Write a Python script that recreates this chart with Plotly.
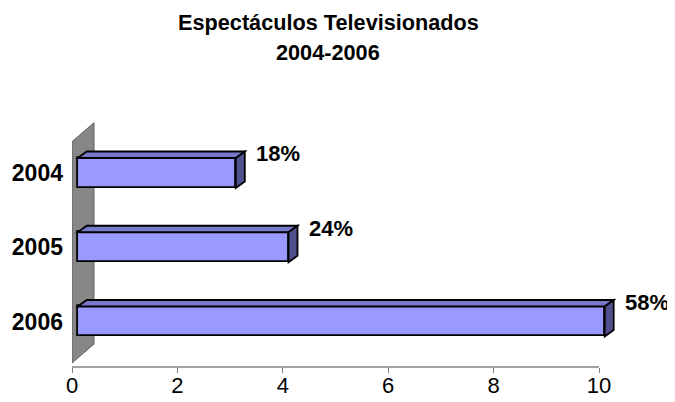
import plotly.graph_objects as go

# ---------------- data ----------------
years = ["2004", "2005", "2006"]
values = [3.0, 4.0, 10.0]
pct_labels = ["18%", "24%", "58%"]
x_ticks = [0, 2, 4, 6, 8, 10]
title_lines = ["Espectáculos Televisionados", "2004-2006"]

# ---------------- layout geometry ----------------
PAGE_OFF = 8                          # browser body margin
W, H = 675 - PAGE_OFF, 402 - PAGE_OFF
# reference-frame pixel positions
REF_LEFT, REF_AXIS10, REF_TOP, REF_BOTTOM, REF_RIGHT = 72, 599, 100, 367, 667
ML = REF_LEFT - PAGE_OFF
MT = REF_TOP - PAGE_OFF
MR = W - (REF_RIGHT - PAGE_OFF)
MB = H - (REF_BOTTOM - PAGE_OFF)
PW = W - ML - MR
PH = H - MT - MB
AXIS_PX = REF_AXIS10 - REF_LEFT
X_MAX = 10
px_per_x = AXIS_PX / X_MAX
X_SPAN = PW / px_per_x
Y_TOP, Y_BOT = -0.983, 2.613          # category-index values at top / bottom of plot
px_per_y = PH / (Y_BOT - Y_TOP)

# 3-D pseudo-projection (pixels)
BAR_FRONT_SHIFT = 5.7                 # bars' front plane sits behind the axis plane
BAR_DEPTH = (9.0, 6.5)                # bar depth vector (right, up)
WALL_DEPTH = (22.0, 19.0)             # wall depth vector
BAR_WIDTH = 0.404                     # in category units

dxb = BAR_DEPTH[0] / px_per_x
dyb = BAR_DEPTH[1] / px_per_y
x2_shift = BAR_FRONT_SHIFT / px_per_x

FRONT = "#9999FF"
TOP = "#7878CA"
SIDE = "#50508F"
FONT = "Liberation Sans, Arial, sans-serif"

ypos = list(range(len(years)))

fig = go.Figure()

# front faces of bars
fig.add_trace(go.Bar(
    x=values, y=ypos, orientation="h", width=BAR_WIDTH,
    xaxis="x2", yaxis="y",
    marker=dict(color=FRONT, line=dict(color="black", width=1.8)),
    hoverinfo="skip", showlegend=False,
))

shapes = []

def ref_py_to_y(p):
    return Y_TOP + (p - REF_TOP) / px_per_y

# back wall (decoration)
wall_front_top = ref_py_to_y(141.7)
wall_front_bot = ref_py_to_y(363.0)
wdx = WALL_DEPTH[0] / px_per_x
wdy = WALL_DEPTH[1] / px_per_y
shapes.append(dict(
    type="path", xref="x", yref="y", layer="below",
    path=(f"M 0,{wall_front_bot} L 0,{wall_front_top} "
          f"L {wdx},{wall_front_top - wdy} L {wdx},{wall_front_bot - wdy} Z"),
    fillcolor="#878787", line=dict(color="#5E5E5E", width=1),
))

# x axis line (from 0 to the last tick)
shapes.append(dict(
    type="line", xref="x", yref="paper", x0=x_ticks[0], x1=x_ticks[-1], y0=0, y1=0,
    line=dict(color="#808080", width=1.5),
))

# top & side faces of bars computed from values
for yi, v in zip(ypos, values):
    yt = yi - BAR_WIDTH / 2
    yb = yi + BAR_WIDTH / 2
    shapes.append(dict(
        type="path", xref="x2", yref="y",
        path=f"M 0,{yt} L {v},{yt} L {v + dxb},{yt - dyb} L {dxb},{yt - dyb} Z",
        fillcolor=TOP, line=dict(color="black", width=1.8),
    ))
    shapes.append(dict(
        type="path", xref="x2", yref="y",
        path=f"M {v},{yt} L {v + dxb},{yt - dyb} L {v + dxb},{yb - dyb} L {v},{yb} Z",
        fillcolor=SIDE, line=dict(color="black", width=1.8),
    ))

annotations = []
for yi, v, lab in zip(ypos, values, pct_labels):
    annotations.append(dict(
        x=v + dxb, y=yi, xref="x2", yref="y", text=lab, showarrow=False,
        xanchor="left", yanchor="middle", xshift=9, yshift=19,
        font=dict(family=FONT, size=22, color="black", weight="bold"),
    ))

# title, two lines (reference-frame pixel centres converted to paper coords)
title_cx = 328
title_centers_px = [23, 52]
for line, cy in zip(title_lines, title_centers_px):
    annotations.append(dict(
        x=(title_cx - REF_LEFT) / PW, y=(REF_BOTTOM - cy) / PH,
        xref="paper", yref="paper",
        text=line, showarrow=False, xanchor="center", yanchor="middle",
        font=dict(family=FONT, size=21.7, color="black", weight="bold"),
    ))

fig.update_layout(
    width=W, height=H,
    margin=dict(l=ML, r=MR, t=MT, b=MB, autoexpand=False),
    paper_bgcolor="white", plot_bgcolor="white",
    xaxis=dict(
        range=[0, X_SPAN], tickvals=x_ticks, ticktext=[str(t) for t in x_ticks],
        showgrid=False, zeroline=False, showline=False,
        ticks="outside", ticklen=5, tickcolor="#808080", tickwidth=1.2,
        tickfont=dict(family=FONT, size=22, color="black"),
        ticklabelstandoff=-6, automargin=False,
    ),
    xaxis2=dict(
        range=[-x2_shift, X_SPAN - x2_shift],
        overlaying="x", anchor="y", visible=False,
    ),
    yaxis=dict(
        range=[Y_BOT, Y_TOP], tickvals=ypos, ticktext=years,
        showgrid=False, zeroline=False, showline=False, ticks="",
        tickfont=dict(family=FONT, size=23, color="black", weight="bold"),
        ticklabelstandoff=8, automargin=False,
    ),
    shapes=shapes,
    annotations=annotations,
    bargap=0,
)

fig.write_html("out.html")
